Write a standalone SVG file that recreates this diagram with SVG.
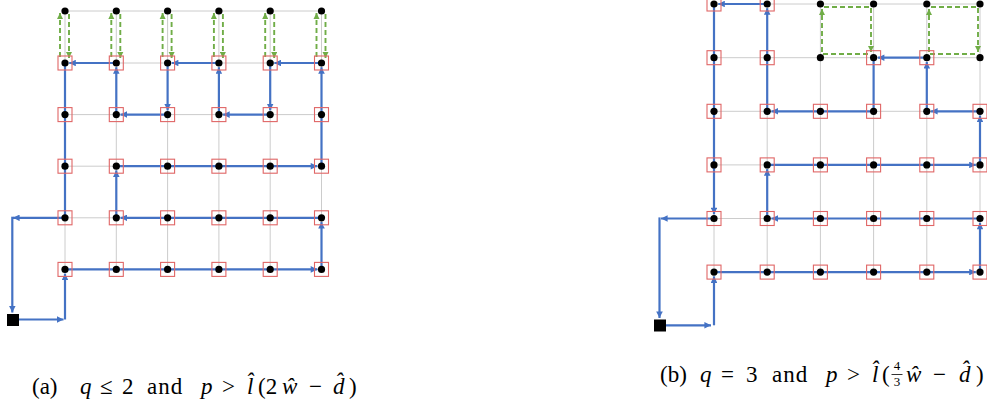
<svg xmlns="http://www.w3.org/2000/svg" width="987" height="410" viewBox="0 0 987 410">
<style>
.grid{stroke:#cccccc;stroke-width:1;fill:none}
.blue{stroke:#4472C4;stroke-width:2.2;fill:none}
.arr{marker-end:url(#ba)}
.green{stroke:#70AD47;stroke-width:1.9;fill:none;stroke-dasharray:5 3;marker-end:url(#ga)}
.sq{fill:none;stroke:#E06666;stroke-width:1.1}
.dot{fill:#000}
.cap{font-family:"Liberation Serif","DejaVu Serif",serif;font-size:23px;fill:#000}
.it{font-style:italic}
.fr{font-family:"Liberation Serif","DejaVu Serif",serif;font-size:13px;fill:#000}
</style>
<defs>
<marker id="ba" viewBox="0 0 10 10" refX="10" refY="5" markerWidth="3.2" markerHeight="3" orient="auto" markerUnits="strokeWidth"><path d="M0,0 L10,5 L0,10 z" fill="#4472C4"/></marker>
<marker id="ga" viewBox="0 0 10 10" refX="10" refY="5" markerWidth="3.4" markerHeight="3.4" orient="auto" markerUnits="strokeWidth"><path d="M0,0 L10,5 L0,10 z" fill="#70AD47"/></marker>
<rect id="rs" x="-7" y="-7" width="14" height="14" class="sq"/>
<circle id="dt" r="3.6" class="dot"/>
</defs>

<g id="grid-a" class="grid">
<path d="M65,11H321.5M65,63H321.5M65,114.6H321.5M65,166.2H321.5M65,217.8H321.5M65,269.4H321.5"/>
<path d="M65,11V269.4M116.3,11V269.4M167.6,11V269.4M218.9,11V269.4M270.2,11V269.4M321.5,11V269.4"/>
</g>
<g id="grid-b" class="grid">
<path d="M714,4H980M714,57.7H980M714,111.3H980M714,164.9H980M714,218.5H980M714,272.1H980"/>
<path d="M714,4V272.1M767.2,4V272.1M820.4,4V272.1M873.6,4V272.1M926.8,4V272.1M980,4V272.1"/>
</g>

<g id="connectors">
<g id="green-a">
<path class="green" d="M60,57V13"/><path class="green" d="M69,14V58"/>
<path class="green" d="M111.3,57V13"/><path class="green" d="M120.3,14V58"/>
<path class="green" d="M162.6,57V13"/><path class="green" d="M171.6,14V58"/>
<path class="green" d="M213.9,57V13"/><path class="green" d="M222.9,14V58"/>
<path class="green" d="M265.2,57V13"/><path class="green" d="M274.2,14V58"/>
<path class="green" d="M316.5,57V13"/><path class="green" d="M325.5,14V58"/>
</g>
<g id="green-b">
<path class="green" d="M868,54H822V9"/><path class="green" d="M824,7H871V52"/>
<path class="green" d="M975,54H929V9"/><path class="green" d="M931,7H978V52"/>
</g>
<g id="path-a" class="blue">
<path class="arr" d="M19,319.5H63.5"/>
<path class="arr" d="M65,319.5V273.6"/>
<path class="arr" d="M65,269.4H317.3"/>
<path class="arr" d="M321.5,269.4V222"/>
<path class="arr" d="M321.5,217.8H120.5"/>
<path class="arr" d="M116.3,217.8V170.4"/>
<path class="arr" d="M116.3,166.2H317.3"/>
<path class="arr" d="M321.5,166.2V67.2"/>
<path class="arr" d="M321.5,63H274.4"/>
<path class="arr" d="M270.2,63V110.4"/>
<path class="arr" d="M270.2,114.6H223.1"/>
<path class="arr" d="M218.9,114.6V67.2"/>
<path class="arr" d="M218.9,63H171.8"/>
<path class="arr" d="M167.6,63V110.4"/>
<path class="arr" d="M167.6,114.6H120.5"/>
<path class="arr" d="M116.3,114.6V67.2"/>
<path class="arr" d="M116.3,63H69.2"/>
<path d="M65,63V217.8"/>
<path class="arr" d="M65,217.8H13"/>
<path class="arr" d="M12.3,216.7V312.5"/>
</g>
<g id="path-b" class="blue">
<path class="arr" d="M666,325.3H711"/>
<path class="arr" d="M714,325.3V276.3"/>
<path class="arr" d="M714,272.1H975.8"/>
<path class="arr" d="M980,272.1V222.7"/>
<path class="arr" d="M980,218.5H771.4"/>
<path class="arr" d="M767.2,218.5V169.1"/>
<path class="arr" d="M767.2,164.9H975.8"/>
<path class="arr" d="M980,164.9V115.5"/>
<path class="arr" d="M980,111.3H931"/>
<path class="arr" d="M926.8,111.3V61.9"/>
<path class="arr" d="M926.8,57.7H877.8"/>
<path d="M873.6,57.7V111.3"/>
<path class="arr" d="M873.6,111.3H771.4"/>
<path class="arr" d="M767.2,111.3V8.2"/>
<path class="arr" d="M767.2,4H718.2"/>
<path class="arr" d="M714,4V214.3"/>
<path class="arr" d="M714,218.5H661"/>
<path class="arr" d="M659.5,217.4V318"/>
</g>
</g>

<g id="nodes-a">
<rect id="a-start" x="7" y="314" width="12" height="12" fill="#000"/>
<g id="a-r0c0"><use href="#dt" x="65" y="11"/></g>
<g id="a-r0c1"><use href="#dt" x="116.3" y="11"/></g>
<g id="a-r0c2"><use href="#dt" x="167.6" y="11"/></g>
<g id="a-r0c3"><use href="#dt" x="218.9" y="11"/></g>
<g id="a-r0c4"><use href="#dt" x="270.2" y="11"/></g>
<g id="a-r0c5"><use href="#dt" x="321.5" y="11"/></g>
<g id="a-r1c0"><use href="#rs" x="65" y="63"/><use href="#dt" x="65" y="63"/></g>
<g id="a-r1c1"><use href="#rs" x="116.3" y="63"/><use href="#dt" x="116.3" y="63"/></g>
<g id="a-r1c2"><use href="#rs" x="167.6" y="63"/><use href="#dt" x="167.6" y="63"/></g>
<g id="a-r1c3"><use href="#rs" x="218.9" y="63"/><use href="#dt" x="218.9" y="63"/></g>
<g id="a-r1c4"><use href="#rs" x="270.2" y="63"/><use href="#dt" x="270.2" y="63"/></g>
<g id="a-r1c5"><use href="#rs" x="321.5" y="63"/><use href="#dt" x="321.5" y="63"/></g>
<g id="a-r2c0"><use href="#rs" x="65" y="114.6"/><use href="#dt" x="65" y="114.6"/></g>
<g id="a-r2c1"><use href="#rs" x="116.3" y="114.6"/><use href="#dt" x="116.3" y="114.6"/></g>
<g id="a-r2c2"><use href="#rs" x="167.6" y="114.6"/><use href="#dt" x="167.6" y="114.6"/></g>
<g id="a-r2c3"><use href="#rs" x="218.9" y="114.6"/><use href="#dt" x="218.9" y="114.6"/></g>
<g id="a-r2c4"><use href="#rs" x="270.2" y="114.6"/><use href="#dt" x="270.2" y="114.6"/></g>
<g id="a-r2c5"><use href="#rs" x="321.5" y="114.6"/><use href="#dt" x="321.5" y="114.6"/></g>
<g id="a-r3c0"><use href="#rs" x="65" y="166.2"/><use href="#dt" x="65" y="166.2"/></g>
<g id="a-r3c1"><use href="#rs" x="116.3" y="166.2"/><use href="#dt" x="116.3" y="166.2"/></g>
<g id="a-r3c2"><use href="#rs" x="167.6" y="166.2"/><use href="#dt" x="167.6" y="166.2"/></g>
<g id="a-r3c3"><use href="#rs" x="218.9" y="166.2"/><use href="#dt" x="218.9" y="166.2"/></g>
<g id="a-r3c4"><use href="#rs" x="270.2" y="166.2"/><use href="#dt" x="270.2" y="166.2"/></g>
<g id="a-r3c5"><use href="#rs" x="321.5" y="166.2"/><use href="#dt" x="321.5" y="166.2"/></g>
<g id="a-r4c0"><use href="#rs" x="65" y="217.8"/><use href="#dt" x="65" y="217.8"/></g>
<g id="a-r4c1"><use href="#rs" x="116.3" y="217.8"/><use href="#dt" x="116.3" y="217.8"/></g>
<g id="a-r4c2"><use href="#rs" x="167.6" y="217.8"/><use href="#dt" x="167.6" y="217.8"/></g>
<g id="a-r4c3"><use href="#rs" x="218.9" y="217.8"/><use href="#dt" x="218.9" y="217.8"/></g>
<g id="a-r4c4"><use href="#rs" x="270.2" y="217.8"/><use href="#dt" x="270.2" y="217.8"/></g>
<g id="a-r4c5"><use href="#rs" x="321.5" y="217.8"/><use href="#dt" x="321.5" y="217.8"/></g>
<g id="a-r5c0"><use href="#rs" x="65" y="269.4"/><use href="#dt" x="65" y="269.4"/></g>
<g id="a-r5c1"><use href="#rs" x="116.3" y="269.4"/><use href="#dt" x="116.3" y="269.4"/></g>
<g id="a-r5c2"><use href="#rs" x="167.6" y="269.4"/><use href="#dt" x="167.6" y="269.4"/></g>
<g id="a-r5c3"><use href="#rs" x="218.9" y="269.4"/><use href="#dt" x="218.9" y="269.4"/></g>
<g id="a-r5c4"><use href="#rs" x="270.2" y="269.4"/><use href="#dt" x="270.2" y="269.4"/></g>
<g id="a-r5c5"><use href="#rs" x="321.5" y="269.4"/><use href="#dt" x="321.5" y="269.4"/></g>
</g>

<g id="nodes-b">
<rect id="b-start" x="654" y="319.5" width="12" height="12" fill="#000"/>
<g id="b-r0c0"><use href="#rs" x="714" y="4"/><use href="#dt" x="714" y="4"/></g>
<g id="b-r0c1"><use href="#rs" x="767.2" y="4"/><use href="#dt" x="767.2" y="4"/></g>
<g id="b-r0c2"><use href="#dt" x="820.4" y="4"/></g>
<g id="b-r0c3"><use href="#dt" x="873.6" y="4"/></g>
<g id="b-r0c4"><use href="#dt" x="926.8" y="4"/></g>
<g id="b-r0c5"><use href="#dt" x="980" y="4"/></g>
<g id="b-r1c0"><use href="#rs" x="714" y="57.7"/><use href="#dt" x="714" y="57.7"/></g>
<g id="b-r1c1"><use href="#rs" x="767.2" y="57.7"/><use href="#dt" x="767.2" y="57.7"/></g>
<g id="b-r1c2"><use href="#dt" x="820.4" y="57.7"/></g>
<g id="b-r1c3"><use href="#rs" x="873.6" y="57.7"/><use href="#dt" x="873.6" y="57.7"/></g>
<g id="b-r1c4"><use href="#rs" x="926.8" y="57.7"/><use href="#dt" x="926.8" y="57.7"/></g>
<g id="b-r1c5"><use href="#dt" x="980" y="57.7"/></g>
<g id="b-r2c0"><use href="#rs" x="714" y="111.3"/><use href="#dt" x="714" y="111.3"/></g>
<g id="b-r2c1"><use href="#rs" x="767.2" y="111.3"/><use href="#dt" x="767.2" y="111.3"/></g>
<g id="b-r2c2"><use href="#rs" x="820.4" y="111.3"/><use href="#dt" x="820.4" y="111.3"/></g>
<g id="b-r2c3"><use href="#rs" x="873.6" y="111.3"/><use href="#dt" x="873.6" y="111.3"/></g>
<g id="b-r2c4"><use href="#rs" x="926.8" y="111.3"/><use href="#dt" x="926.8" y="111.3"/></g>
<g id="b-r2c5"><use href="#rs" x="980" y="111.3"/><use href="#dt" x="980" y="111.3"/></g>
<g id="b-r3c0"><use href="#rs" x="714" y="164.9"/><use href="#dt" x="714" y="164.9"/></g>
<g id="b-r3c1"><use href="#rs" x="767.2" y="164.9"/><use href="#dt" x="767.2" y="164.9"/></g>
<g id="b-r3c2"><use href="#rs" x="820.4" y="164.9"/><use href="#dt" x="820.4" y="164.9"/></g>
<g id="b-r3c3"><use href="#rs" x="873.6" y="164.9"/><use href="#dt" x="873.6" y="164.9"/></g>
<g id="b-r3c4"><use href="#rs" x="926.8" y="164.9"/><use href="#dt" x="926.8" y="164.9"/></g>
<g id="b-r3c5"><use href="#rs" x="980" y="164.9"/><use href="#dt" x="980" y="164.9"/></g>
<g id="b-r4c0"><use href="#rs" x="714" y="218.5"/><use href="#dt" x="714" y="218.5"/></g>
<g id="b-r4c1"><use href="#rs" x="767.2" y="218.5"/><use href="#dt" x="767.2" y="218.5"/></g>
<g id="b-r4c2"><use href="#rs" x="820.4" y="218.5"/><use href="#dt" x="820.4" y="218.5"/></g>
<g id="b-r4c3"><use href="#rs" x="873.6" y="218.5"/><use href="#dt" x="873.6" y="218.5"/></g>
<g id="b-r4c4"><use href="#rs" x="926.8" y="218.5"/><use href="#dt" x="926.8" y="218.5"/></g>
<g id="b-r4c5"><use href="#rs" x="980" y="218.5"/><use href="#dt" x="980" y="218.5"/></g>
<g id="b-r5c0"><use href="#rs" x="714" y="272.1"/><use href="#dt" x="714" y="272.1"/></g>
<g id="b-r5c1"><use href="#rs" x="767.2" y="272.1"/><use href="#dt" x="767.2" y="272.1"/></g>
<g id="b-r5c2"><use href="#rs" x="820.4" y="272.1"/><use href="#dt" x="820.4" y="272.1"/></g>
<g id="b-r5c3"><use href="#rs" x="873.6" y="272.1"/><use href="#dt" x="873.6" y="272.1"/></g>
<g id="b-r5c4"><use href="#rs" x="926.8" y="272.1"/><use href="#dt" x="926.8" y="272.1"/></g>
<g id="b-r5c5"><use href="#rs" x="980" y="272.1"/><use href="#dt" x="980" y="272.1"/></g>
</g>

<g id="caption-a">
<text class="cap" y="394"><tspan x="32">(a)</tspan><tspan x="80" class="it">q</tspan><tspan x="100">≤</tspan><tspan x="122">2</tspan><tspan x="147" letter-spacing="1">and</tspan><tspan x="201" class="it">p</tspan><tspan x="222">&gt;</tspan><tspan x="247" class="it">l̂</tspan><tspan x="258">(2</tspan><tspan x="282" class="it">ŵ</tspan><tspan x="309">−</tspan><tspan x="333" class="it">d̂</tspan><tspan x="349">)</tspan></text>
</g>
<g id="caption-b">
<text class="cap" y="382"><tspan x="660">(b)</tspan><tspan x="700" class="it">q</tspan><tspan x="721">=</tspan><tspan x="746">3</tspan><tspan x="772" letter-spacing="1">and</tspan><tspan x="826" class="it">p</tspan><tspan x="847">&gt;</tspan><tspan x="872" class="it">l̂</tspan><tspan x="882">(</tspan><tspan x="906" class="it">ŵ</tspan><tspan x="933">−</tspan><tspan x="959" class="it">d̂</tspan><tspan x="976">)</tspan></text>
<text class="fr" x="897" y="370" text-anchor="middle">4</text>
<line x1="891.5" y1="374.5" x2="902.5" y2="374.5" stroke="#000" stroke-width="0.8"/>
<text class="fr" x="897" y="386" text-anchor="middle">3</text>
</g>
</svg>
